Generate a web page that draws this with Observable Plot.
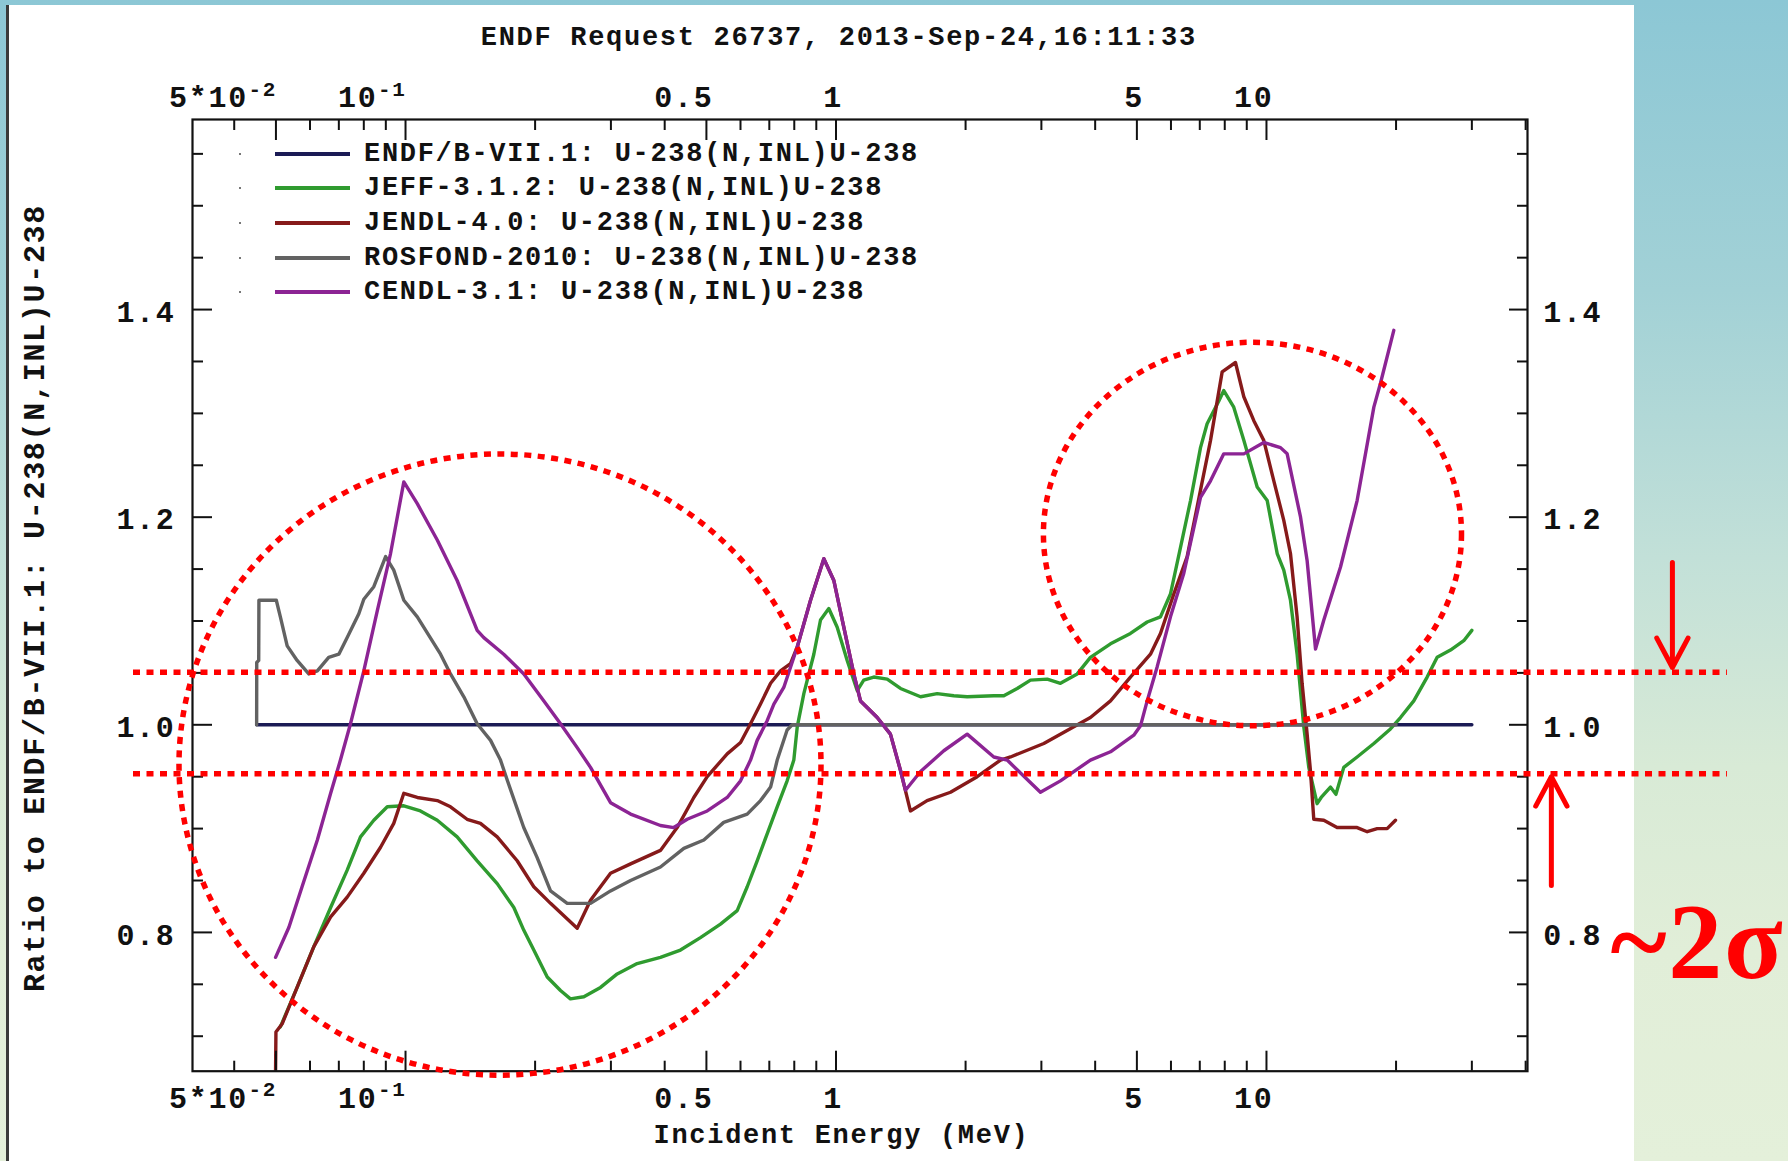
<!DOCTYPE html>
<html>
<head>
<meta charset="utf-8">
<script src="https://cdn.jsdelivr.net/npm/d3@7"></script>
<script src="https://cdn.jsdelivr.net/npm/@observablehq/plot@0.6"></script>
<style>
  html, body { margin: 0; padding: 0; }
  body {
    width: 1788px; height: 1161px; overflow: hidden; position: relative;
    background: linear-gradient(to bottom, #8cc7d5 0%, #a2d1d6 25%, #c2e0d8 48%, #d8eAd6 66%, #e1eed8 82%, #e4f0da 100%);
    font-family: "Liberation Mono", monospace;
  }
  #paper { position: absolute; left: 9px; top: 5px; width: 1625px; height: 1156px; background: #fff; }
  #edge { position: absolute; left: 6px; top: 5px; width: 3px; height: 1156px; background: #3a3a3a; }
  #chart { position: absolute; left: 0; top: 0; }
  #chart svg text { letter-spacing: 1.7px; }
  #legend { position: absolute; left: 0; top: 0; font: bold 27px "Liberation Mono", monospace; letter-spacing: 1.7px; color: #111; }
  .lrow { position: absolute; height: 34px; display: flex; align-items: center; white-space: pre; }
  .ldot { position: absolute; width: 2px; height: 2px; background: #777; }
  .lline { position: absolute; height: 4px; width: 75px; }
</style>
</head>
<body>
<div id="paper"></div>
<div id="edge"></div>
<div id="chart"></div>
<div id="legend"></div>
<script>
// ---------------- data ----------------
const seriesNames = [
  "ENDF/B-VII.1: U-238(N,INL)U-238",
  "JEFF-3.1.2: U-238(N,INL)U-238",
  "JENDL-4.0: U-238(N,INL)U-238",
  "ROSFOND-2010: U-238(N,INL)U-238",
  "CENDL-3.1: U-238(N,INL)U-238"
];
const seriesColors = ["#1b1b55", "#2f9b2f", "#861a1a", "#626262", "#8c2494"];

const endfE = [0.0451, 30];
const endfR = [1.0, 1.0];

const jeffE = [0.0512, 0.0560, 0.0612, 0.0670, 0.0732, 0.0786, 0.0844, 0.0907, 0.0991, 0.1083, 0.1185, 0.1318, 0.1467, 0.1633, 0.1785, 0.1883, 0.1986, 0.2134, 0.2291, 0.2416, 0.2596, 0.2838, 0.3103, 0.3452, 0.391, 0.4352, 0.4843, 0.5391, 0.5895, 0.622, 0.656, 0.692, 0.7302, 0.770, 0.798, 0.8128, 0.842, 0.8882, 0.9205, 0.9623, 1.0065, 1.0617, 1.12, 1.16, 1.224, 1.315, 1.412, 1.572, 1.718, 1.878, 2.017, 2.326, 2.454, 2.636, 2.83, 3.095, 3.322, 3.634, 3.90, 4.342, 4.831, 5.283, 5.672, 5.984, 6.314, 6.662, 7.027, 7.28, 7.75, 7.958, 8.395, 8.859, 9.515, 10.04, 10.59, 10.97, 11.37, 11.78, 12.21, 12.54, 13.11, 13.4, 14.08, 14.5, 15.12, 16.24, 17.76, 19.41, 20.48, 21.99, 23.62, 24.92, 26.76, 28.73, 30.0];
const jeffR = [0.709, 0.747, 0.786, 0.824, 0.860, 0.892, 0.908, 0.921, 0.922, 0.917, 0.908, 0.892, 0.869, 0.847, 0.824, 0.802, 0.783, 0.757, 0.744, 0.736, 0.738, 0.747, 0.760, 0.770, 0.776, 0.783, 0.795, 0.808, 0.821, 0.844, 0.869, 0.895, 0.921, 0.946, 0.966, 0.998, 1.030, 1.068, 1.101, 1.112, 1.094, 1.062, 1.033, 1.043, 1.046, 1.044, 1.035, 1.027, 1.030, 1.028, 1.027, 1.028, 1.028, 1.035, 1.043, 1.044, 1.040, 1.049, 1.065, 1.078, 1.088, 1.099, 1.104, 1.126, 1.171, 1.216, 1.267, 1.290, 1.312, 1.322, 1.306, 1.274, 1.229, 1.216, 1.165, 1.149, 1.120, 1.068, 0.998, 0.959, 0.924, 0.930, 0.940, 0.933, 0.959, 0.969, 0.982, 0.996, 1.007, 1.023, 1.046, 1.065, 1.072, 1.081, 1.091];

const jendlE = [0.0499, 0.0500, 0.0517, 0.0560, 0.0612, 0.0670, 0.0732, 0.0800, 0.0875, 0.0939, 0.0991, 0.1065, 0.1185, 0.1272, 0.1390, 0.1493, 0.1633, 0.1817, 0.1986, 0.2172, 0.2505, 0.269, 0.2994, 0.3333, 0.391, 0.4276, 0.4674, 0.5022, 0.5588, 0.6002, 0.633, 0.6678, 0.7048, 0.7433, 0.784, 0.8128, 0.8727, 0.937, 0.9885, 1.0426, 1.0998, 1.14, 1.2467, 1.338, 1.412, 1.489, 1.628, 1.845, 2.128, 2.411, 2.543, 3.039, 3.90, 4.342, 4.831, 5.377, 5.672, 6.092, 6.543, 7.027, 7.414, 7.89, 8.472, 8.859, 9.346, 9.856, 10.40, 10.97, 11.37, 11.78, 12.10, 12.43, 12.65, 12.88, 13.59, 14.59, 16.24, 17.14, 18.08, 19.07, 19.94];
const jendlR = [0.6663, 0.704, 0.712, 0.747, 0.786, 0.815, 0.834, 0.857, 0.882, 0.905, 0.934, 0.930, 0.927, 0.921, 0.909, 0.905, 0.892, 0.869, 0.844, 0.828, 0.804, 0.831, 0.857, 0.866, 0.879, 0.901, 0.930, 0.950, 0.972, 0.983, 1.001, 1.020, 1.040, 1.052, 1.059, 1.075, 1.120, 1.160, 1.139, 1.094, 1.049, 1.023, 1.007, 0.991, 0.956, 0.917, 0.927, 0.935, 0.950, 0.966, 0.969, 0.982, 1.007, 1.023, 1.046, 1.068, 1.088, 1.126, 1.162, 1.226, 1.274, 1.340, 1.349, 1.316, 1.293, 1.274, 1.235, 1.197, 1.165, 1.104, 1.040, 0.991, 0.956, 0.909, 0.908, 0.901, 0.901, 0.897, 0.900, 0.900, 0.908];

const rosfondE = [0.0451, 0.04512, 0.0456, 0.04565, 0.0501, 0.0512, 0.0531, 0.0560, 0.0596, 0.0624, 0.0663, 0.0700, 0.0732, 0.0779, 0.0800, 0.0844, 0.0899, 0.0939, 0.0991, 0.1065, 0.1206, 0.1272, 0.1366, 0.1467, 0.1576, 0.1662, 0.1722, 0.1882, 0.2022, 0.2172, 0.2375, 0.2690, 0.2994, 0.3333, 0.3911, 0.4431, 0.4932, 0.5485, 0.6220, 0.6678, 0.7048, 0.7302, 0.770, 0.791, 20.0];
const rosfondR = [1.000, 1.060, 1.062, 1.120, 1.120, 1.104, 1.076, 1.062, 1.049, 1.052, 1.065, 1.068, 1.084, 1.107, 1.121, 1.133, 1.162, 1.149, 1.120, 1.104, 1.068, 1.049, 1.027, 1.001, 0.985, 0.966, 0.947, 0.901, 0.872, 0.840, 0.828, 0.828, 0.840, 0.850, 0.863, 0.881, 0.889, 0.906, 0.914, 0.927, 0.940, 0.966, 0.995, 1.000, 1.000];

const cendlE = [0.0499, 0.0536, 0.0575, 0.0624, 0.0670, 0.0706, 0.0745, 0.0800, 0.0860, 0.0923, 0.0991, 0.1065, 0.1185, 0.1318, 0.1467, 0.152, 0.1691, 0.1883, 0.2096, 0.2291, 0.2505, 0.269, 0.2994, 0.3333, 0.391, 0.420, 0.4511, 0.5022, 0.5588, 0.6002, 0.633, 0.656, 0.692, 0.7173, 0.7563, 0.8128, 0.8727, 0.937, 0.9885, 1.0426, 1.0998, 1.14, 1.2467, 1.338, 1.412, 1.450, 1.572, 1.780, 2.017, 2.326, 2.499, 2.985, 3.322, 3.90, 4.342, 4.918, 5.098, 5.283, 5.574, 5.984, 6.427, 7.027, 7.414, 7.958, 8.859, 9.856, 10.78, 11.17, 12.0, 12.43, 13.0, 13.59, 14.86, 16.24, 17.76, 18.40, 19.76];
const cendlR = [0.776, 0.805, 0.844, 0.889, 0.934, 0.966, 1.001, 1.052, 1.110, 1.165, 1.234, 1.213, 1.178, 1.139, 1.091, 1.084, 1.068, 1.049, 1.023, 1.001, 0.978, 0.959, 0.925, 0.914, 0.903, 0.901, 0.909, 0.917, 0.930, 0.946, 0.966, 0.985, 1.004, 1.020, 1.036, 1.075, 1.120, 1.160, 1.139, 1.094, 1.049, 1.023, 1.007, 0.991, 0.956, 0.937, 0.955, 0.975, 0.991, 0.969, 0.966, 0.935, 0.946, 0.966, 0.974, 0.990, 0.999, 1.023, 1.056, 1.104, 1.146, 1.219, 1.235, 1.261, 1.261, 1.272, 1.267, 1.261, 1.200, 1.158, 1.073, 1.101, 1.152, 1.216, 1.306, 1.329, 1.380];

// axes
const xDomain = [0.032, 40.4];
const yDomain = [0.6663, 1.5831];
const xMajorTicks = [0.05, 0.1, 0.5, 1, 5, 10];
const xMinorTicks = [0.04, 0.06, 0.07, 0.08, 0.09, 0.2, 0.3, 0.4, 0.6, 0.7, 0.8, 0.9, 2, 3, 4, 6, 7, 8, 9, 20, 30, 40];
const xTickText = ["5*10", "10", "0.5", "1", "5", "10"];
const xTickExp = ["-2", "-1", "", "", "", ""];
const yMajorTicks = [0.8, 1.0, 1.2, 1.4];
const yMinorTicks = [0.70, 0.75, 0.85, 0.90, 0.95, 1.05, 1.10, 1.15, 1.25, 1.30, 1.35, 1.45, 1.50, 1.55];
const yTickText = ["0.8", "1.0", "1.2", "1.4"];
const titleText = "ENDF Request 26737, 2013-Sep-24,16:11:33";
const xTitle = "Incident Energy (MeV)";
const yTitle = "Ratio to ENDF/B-VII.1: U-238(N,INL)U-238";

// red annotations (data units)
const bandLevels = [1.0507, 0.9528];
const bandSpan = [0.02334, 117.7];
const ringBoxes = [
  {e1: 0.02985, e2: 0.9254, r1: 0.662, r2: 1.2604},
  {e1: 3.041, e2: 28.46, r1: 0.9986, r2: 1.368}
];
const arrowSpecs = [
  {e: 87.7, from: 1.1564, to: 1.0552},
  {e: 45.9, from: 0.8453, to: 0.950}
];
const noteSpecs = [{e: 100.3, r: 0.789, label: "~2σ"}];

// ---------------- build ----------------
const seriesE = [endfE, jeffE, jendlE, rosfondE, cendlE];
const seriesR = [endfR, jeffR, jendlR, rosfondR, cendlR];
const table = [];
seriesE.forEach((E, i) => E.forEach((e, j) => table.push({series: seriesNames[i], E: e, R: seriesR[i][j]})));

const W = 1788, H = 1161;
const mL = 192, mR = 261, mT = 119, mB = 90.3;
const FW = W - mL - mR, FH = H - mT - mB;

const xLab = xMajorTicks.map((v, i) => ({E: v, t: xTickText[i], s: xTickExp[i]}));
const xPlain = xLab.filter(d => !d.s);
const xSup = xLab.filter(d => d.s);
const yLab = yMajorTicks.map((v, i) => ({R: v, t: yTickText[i]}));
const bands = bandLevels.map(l => ({level: l, from: bandSpan[0], to: bandSpan[1]}));

const red = "#ff0000";
const LA = "middle";

function rings(index, scales) {
  const g = d3.create("svg:g");
  for (const r of ringBoxes) {
    const x1 = scales.x(r.e1), x2 = scales.x(r.e2), y1 = scales.y(r.r1), y2 = scales.y(r.r2);
    g.append("ellipse")
      .attr("cx", (x1 + x2) / 2).attr("cy", (y1 + y2) / 2)
      .attr("rx", Math.abs(x2 - x1) / 2).attr("ry", Math.abs(y2 - y1) / 2)
      .attr("fill", "none").attr("stroke", red).attr("stroke-width", 5.5)
      .attr("stroke-dasharray", "7 6.5");
  }
  return g.node();
}

const chart = Plot.plot({
  width: W, height: H,
  marginLeft: mL, marginRight: mR, marginTop: mT, marginBottom: mB,
  x: {type: "log", domain: xDomain, axis: null},
  y: {domain: yDomain, axis: null},
  color: {domain: seriesNames, range: seriesColors},
  style: {background: "transparent", fontFamily: "Liberation Mono, monospace", fontWeight: "bold", fontSize: "27px", color: "#111", overflow: "visible"},
  marks: [
    // data
    Plot.line(table, {x: "E", y: "R", z: "series", stroke: "series", strokeWidth: 3.4, strokeLinejoin: "round", clip: true}),
    // frame & ticks
    Plot.frame({stroke: "#111", strokeWidth: 2.2}),
    Plot.tickX(xMajorTicks, {x: d => d, insetTop: FH - 20, stroke: "#111", strokeWidth: 2}),
    Plot.tickX(xMinorTicks, {x: d => d, insetTop: FH - 10, stroke: "#111", strokeWidth: 2}),
    Plot.tickX(xMajorTicks, {x: d => d, insetBottom: FH - 21, stroke: "#111", strokeWidth: 2}),
    Plot.tickX(xMinorTicks, {x: d => d, insetBottom: FH - 11, stroke: "#111", strokeWidth: 2}),
    Plot.tickY(yMajorTicks, {y: d => d, insetRight: FW - 20, stroke: "#111", strokeWidth: 2}),
    Plot.tickY(yMinorTicks, {y: d => d, insetRight: FW - 11, stroke: "#111", strokeWidth: 2}),
    Plot.tickY(yMajorTicks, {y: d => d, insetLeft: FW - 18, stroke: "#111", strokeWidth: 2}),
    Plot.tickY(yMinorTicks, {y: d => d, insetLeft: FW - 10, stroke: "#111", strokeWidth: 2}),
    // x tick labels (bottom & top)
    Plot.text(xPlain, {x: "E", text: "t", frameAnchor: "bottom", lineAnchor: LA, dy: 27.6, dx: 7, textAnchor: "end", fontSize: 30}),
    Plot.text(xSup, {x: "E", text: "t", frameAnchor: "bottom", lineAnchor: LA, dy: 27.6, dx: -28, textAnchor: "end", fontSize: 30}),
    Plot.text(xSup, {x: "E", text: "s", frameAnchor: "bottom", lineAnchor: LA, dy: 18, dx: -27.5, textAnchor: "start", fontSize: 21}),
    Plot.text(xPlain, {x: "E", text: "t", frameAnchor: "top", lineAnchor: LA, dy: -21.8, dx: 7, textAnchor: "end", fontSize: 30}),
    Plot.text(xSup, {x: "E", text: "t", frameAnchor: "top", lineAnchor: LA, dy: -21.8, dx: -28, textAnchor: "end", fontSize: 30}),
    Plot.text(xSup, {x: "E", text: "s", frameAnchor: "top", lineAnchor: LA, dy: -30.5, dx: -27.5, textAnchor: "start", fontSize: 21}),
    // y tick labels (left & right)
    Plot.text(yLab, {y: "R", text: "t", frameAnchor: "left", lineAnchor: LA, dx: -17, dy: 2.5, textAnchor: "end", fontSize: 30}),
    Plot.text(yLab, {y: "R", text: "t", frameAnchor: "right", lineAnchor: LA, dx: 15.7, dy: 2.5, textAnchor: "start", fontSize: 30}),
    // titles
    Plot.text([titleText], {text: d => d, frameAnchor: "top", lineAnchor: LA, textAnchor: "middle", dy: -83.2, dx: -21.2}),
    Plot.text([xTitle], {text: d => d, frameAnchor: "bottom", lineAnchor: LA, textAnchor: "middle", dy: 63.5, dx: -18.5}),
    Plot.text([yTitle], {text: d => d, frameAnchor: "left", lineAnchor: LA, textAnchor: "middle", rotate: -90, dx: -158, dy: 2.7, fontSize: 30}),
    // red annotations
    Plot.ruleY(bands, {y: "level", x1: "from", x2: "to", stroke: red, strokeWidth: 5.5, strokeDasharray: "7 6.5"}),
    rings,
    Plot.arrow(arrowSpecs, {x1: "e", x2: "e", y1: "from", y2: "to", stroke: red, strokeWidth: 5, headLength: 10, headAngle: 56}),
    Plot.text(noteSpecs, {x: "e", y: "r", text: "label", fill: red, fontFamily: "Liberation Serif, serif", fontWeight: "bold", fontSize: 108})
  ]
});
document.getElementById("chart").appendChild(chart);

// legend (HTML overlay inside the frame)
const legendRowCenters = [154, 188.3, 222.7, 257.7, 292.3];
const legend = document.getElementById("legend");
seriesNames.forEach((name, i) => {
  const cy = legendRowCenters[i];
  const dot = document.createElement("div");
  dot.className = "ldot"; dot.style.left = "239px"; dot.style.top = (cy - 1) + "px";
  legend.appendChild(dot);
  const ln = document.createElement("div");
  ln.className = "lline"; ln.style.left = "275px"; ln.style.top = (cy - 2) + "px";
  ln.style.background = seriesColors[i];
  legend.appendChild(ln);
  const row = document.createElement("div");
  row.className = "lrow"; row.style.left = "364px"; row.style.top = (cy - 17) + "px";
  row.textContent = name;
  legend.appendChild(row);
});
</script>
</body>
</html>
